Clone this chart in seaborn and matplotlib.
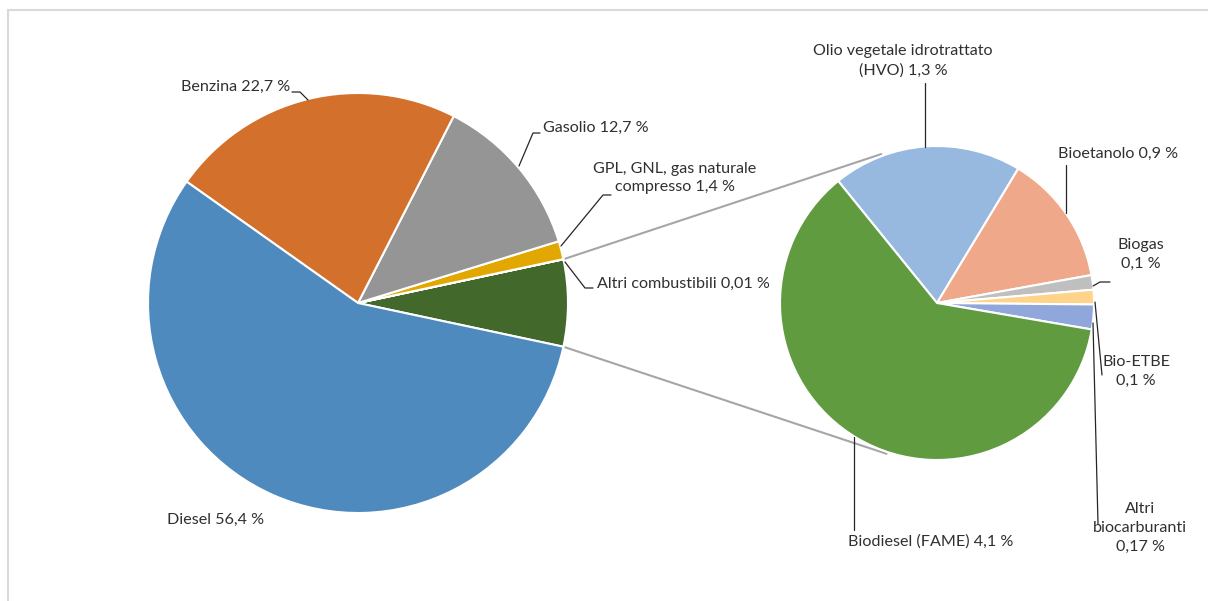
import numpy as np
import matplotlib
matplotlib.use("Agg")
import matplotlib.pyplot as plt
import seaborn as sns

# ---------------- data ----------------
main_labels = ["Altri combustibili", "GPL, GNL, gas naturale\ncompresso", "Gasolio", "Benzina", "Diesel"]
main_values = [0.01, 1.4, 12.7, 22.7, 56.4]
main_texts = ["Altri combustibili 0,01 %", "GPL, GNL, gas naturale\ncompresso 1,4 %",
              "Gasolio 12,7 %", "Benzina 22,7 %", "Diesel 56,4 %"]
main_colors = ["#43682B", "#E2A700", "#959595", "#D3702B", "#4E8ABE"]
bio_group_color = "#43682B"

bio_labels = ["Olio vegetale idrotrattato (HVO)", "Bioetanolo", "Biogas", "Bio-ETBE",
              "Altri biocarburanti", "Biodiesel (FAME)"]
bio_values = [1.3, 0.9, 0.1, 0.1, 0.17, 4.1]
bio_texts = ["Olio vegetale idrotrattato\n(HVO) 1,3 %", "Bioetanolo 0,9 %", "Biogas\n0,1 %",
             "Bio-ETBE\n0,1 %", "Altri\nbiocarburanti\n0,17 %", "Biodiesel (FAME) 4,1 %"]
bio_colors = ["#97B9E0", "#F0A88A", "#BFBFBF", "#FFD38A", "#8FA7DA", "#619B3F"]

# ---------------- style ----------------
sns.set_style("white")
plt.rcParams["font.family"] = ["Lato", "DejaVu Sans"]

W, H = 1208, 601
fig = plt.figure(figsize=(W / 100, H / 100), dpi=100)
ax = fig.add_axes([0, 0, 1, 1])

def P(x, y):
    """pixel (top-left origin) -> data coords"""
    return (x, H - y)

c1, r1 = P(358, 303), 210
c2, r2 = P(937, 303), 157

bio_total = sum(bio_values)
left_vals = [bio_total] + main_values
left_cols = [bio_group_color] + main_colors
total = sum(left_vals)
bio_angle = bio_total / total * 360.0
start1 = -bio_angle / 2

wedge_kw = dict(edgecolor="white", linewidth=1.5)
ax.pie(left_vals, colors=left_cols, startangle=start1, counterclock=True,
       center=c1, radius=r1, wedgeprops=wedge_kw, normalize=True)
ax.pie(bio_values, colors=bio_colors, startangle=129, counterclock=False,
       center=c2, radius=r2, wedgeprops=wedge_kw, normalize=True)

# connector lines between pies
for a1, a2 in [(bio_angle / 2, 110.5), (-bio_angle / 2, -108.5)]:
    x0 = c1[0] + r1 * np.cos(np.radians(a1))
    y0 = c1[1] + r1 * np.sin(np.radians(a1))
    x1 = c2[0] + (r2 + 2) * np.cos(np.radians(a2))
    y1 = c2[1] + (r2 + 2) * np.sin(np.radians(a2))
    ax.plot([x0, x1], [y0, y1], color="#A6A6A6", lw=1.5, zorder=0)

# ---------------- labels ----------------
fs = 11.6
tc = "#303030"
lc = "#262626"

def leader(pts):
    xs = [p[0] for p in pts]
    ys = [H - p[1] for p in pts]
    ax.plot(xs, ys, color=lc, lw=0.9, zorder=5)

def label(x, y, s, ha="center"):
    ax.text(x, H - y, s, ha=ha, va="center", fontsize=fs, color=tc,
            linespacing=1.45, zorder=6)

# main pie labels
label(181, 87, main_texts[3], ha="left")
leader([(292, 92), (300, 92), (308, 100)])
label(543, 128, main_texts[2], ha="left")
leader([(519, 166), (533, 133), (540, 133)])
label(675, 178, main_texts[1])
leader([(561, 246), (603, 195), (611, 195)])
label(597, 284, main_texts[0], ha="left")
leader([(565, 262), (585, 288), (593, 288)])
label(167, 520, main_texts[4], ha="left")

# bio pie labels
label(903, 61, bio_texts[0])
leader([(925, 83), (925, 147)])
label(1058, 154, bio_texts[1], ha="left")
leader([(1066, 165), (1066, 213)])
label(1141, 254, bio_texts[2])
leader([(1093, 286), (1100, 282), (1110, 282)])
label(1136, 371, bio_texts[3])
leader([(1095, 302), (1102, 375)])
label(1140, 528, bio_texts[4])
leader([(1093, 323), (1098, 524)])
label(848, 542, bio_texts[5], ha="left")
leader([(854, 530), (854, 437)])

# chart-area frame (left and top edges visible)
ax.plot([7.5, 7.5], [H - 9.5, -5], color="#D9D9D9", lw=1.5, zorder=0, clip_on=False)
ax.plot([7.5, W + 5], [H - 9.5, H - 9.5], color="#D9D9D9", lw=1.5, zorder=0, clip_on=False)

ax.set_xlim(0, W)
ax.set_ylim(0, H)
ax.set_aspect("equal")
ax.axis("off")

fig.savefig("out.png", dpi=100, facecolor="white")
